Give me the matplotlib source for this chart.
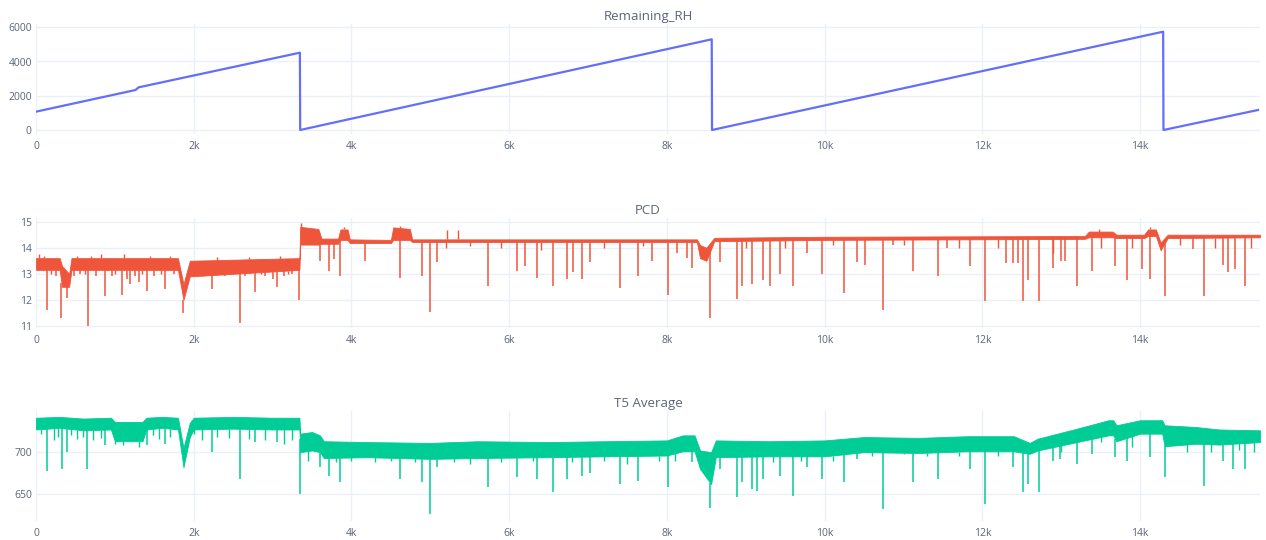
import numpy as np
import matplotlib
matplotlib.use("Agg")
import matplotlib.pyplot as plt

## data
# Remaining_RH (sawtooth)
rh_x = [0, 1262, 1300, 3346, 3350, 8568, 8572, 14292, 14296, 15495]
rh_y = [1070, 2336, 2490, 4514, 0, 5297, 0, 5741, 0, 1168]

# PCD: noise band (upper / lower edge), the long spikes and the short ones
pcd_band_x = [0, 300, 330, 420, 450, 1800, 1870, 1950, 3340, 3350, 3580, 3620, 3830, 3860, 3950,
              3980, 4500, 4530, 4740, 4770, 8380, 8420, 8500, 8600, 10000, 13300, 13350, 13650,
              13700, 14050, 14100, 14200, 14260, 14350, 15520]
pcd_hi = [13.6, 13.6, 13.3, 13.0, 13.6, 13.6, 12.6, 13.5, 13.6, 14.8, 14.72, 14.35, 14.35,
          14.7, 14.7, 14.32, 14.3, 14.78, 14.72, 14.32, 14.32, 14.1, 14.0, 14.38, 14.42, 14.45,
          14.62, 14.62, 14.5, 14.5, 14.7, 14.7, 14.2, 14.5, 14.5]
pcd_lo = [13.15, 13.15, 12.5, 12.5, 13.15, 13.15, 12.0, 12.9, 13.15, 14.12, 14.12, 14.15, 14.15,
          14.3, 14.3, 14.18, 14.18, 14.3, 14.3, 14.22, 14.22, 13.6, 13.5, 14.25, 14.3, 14.34,
          14.4, 14.4, 14.37, 14.37, 14.45, 14.45, 13.9, 14.37, 14.4]
pcd_dip_x = [140, 250, 323, 390, 480, 560, 665, 760, 870, 960, 1085, 1150, 1197, 1250, 1300, 1410,
             1500, 1640, 1750, 1870, 2050, 2150, 2233, 2400, 2500, 2582, 2650, 2782, 2900, 3000,
             3057, 3150, 3250, 3340,
             3595, 3710, 3775, 3860, 4175, 4610,
             4895, 5000, 5085, 5735, 6100, 6205, 6352, 6560, 6733, 6815, 6922, 7028, 7408, 7636,
             7810, 8017, 8127, 8253, 8317, 8549, 8675, 8887, 8950, 9080, 9220, 9310, 9436, 9600,
             9775, 9965, 10239,
             10407, 10513, 10745, 10868, 11122, 11438, 11548, 11844, 12034, 12300, 12389, 12450,
             12512, 12580, 12719, 12896, 13000, 13048, 13196, 13386, 13682, 13830, 14020, 14126,
             14316, 14671, 14810, 15050, 15115, 15200, 15330]
pcd_dip_y = [11.62, 12.9, 11.29, 12.07, 12.9, 13.0, 11.0, 12.9, 12.14, 12.9, 12.2, 12.8, 12.6, 12.9,
             12.7, 12.33, 12.9, 12.4, 13.0, 11.5, 12.9, 13.0, 12.4, 12.9, 13.0, 11.1, 12.9, 12.3,
             12.9, 12.8, 12.5, 12.9, 13.0, 12.0,
             13.5, 13.1, 13.58, 12.92, 13.5, 12.85,
             12.92, 11.55, 13.44, 12.53, 13.11, 13.3, 12.85, 12.53, 12.8, 13.05, 12.8, 13.44, 12.46,
             12.92, 13.5, 12.2, 13.8, 13.6, 13.24, 11.29, 13.44, 12.02, 12.53, 12.6, 12.75, 12.53,
             13.0, 12.53, 13.8, 13.0, 12.27,
             13.44, 13.35, 11.62, 14.09, 13.11, 12.92, 14.0, 13.3, 11.94, 13.4, 13.4, 13.4, 11.94,
             12.75, 11.94, 13.24, 13.5, 13.5, 12.53, 13.1, 13.3, 12.75, 13.2, 12.8, 12.14, 13.95,
             12.14, 13.35, 13.05, 13.2, 12.53]
pcd_short_x = [40, 100, 190, 520, 620, 700, 820, 1000, 1120, 1350, 1450, 1580, 1700, 2100, 2300,
               2450, 2700, 2850, 3100, 3200, 3365, 3900, 4620, 5210, 5345, 5200, 5500, 5900, 6400,
               7200, 7700, 9000, 9500, 10100, 11000, 11700, 12200, 12900, 13480, 13500, 13900,
               14130, 14500, 14950, 15400]
pcd_short_y = [13.75, 13.7, 13.0, 13.7, 13.0, 13.7, 13.75, 13.0, 13.75, 13.0, 13.7, 13.0, 13.7,
               13.0, 13.65, 13.0, 13.65, 13.0, 13.7, 13.0, 14.95, 14.78, 14.85, 14.67, 14.67,
               14.0, 14.05, 14.0, 13.9, 14.0, 14.05, 14.0, 14.0, 14.1, 14.1, 14.0, 14.0, 13.8,
               14.72, 14.0, 14.0, 14.78, 14.1, 14.0, 14.0]

# T5 Average: noise band plus spikes
t5_band_x = [0, 300, 600, 950, 1000, 1350, 1400, 1600, 1800, 1870, 1950, 2000, 2500, 3000, 3340,
             3350, 3500, 3600, 3650, 4200, 5000, 5600, 6500, 7200, 8000, 8200, 8350, 8420, 8560,
             8620, 9300, 10000, 10500, 11200, 11800, 12400, 12600, 12700, 13200, 13600, 13660,
             13700, 14000, 14280, 14310, 14700, 15000, 15520]
t5_hi = [741, 742, 740, 741, 736, 736, 741, 742, 741, 705, 735, 741, 742, 741, 741, 722, 724, 720,
         713, 712, 711, 713, 712, 713, 714, 720, 720, 702, 700, 714, 713, 714, 718, 717, 719, 719,
         711, 716, 728, 738, 738, 732, 738, 738, 732, 730, 727, 726]
t5_lo = [727, 729, 726, 727, 713, 713, 727, 729, 727, 682, 718, 727, 728, 727, 727, 700, 702, 700,
         693, 694, 692, 693, 694, 695, 696, 701, 701, 680, 662, 694, 695, 695, 700, 699, 701, 701,
         698, 702, 712, 720, 720, 713, 722, 722, 707, 710, 709, 712]
t5_dip_x = [140, 332, 395, 653, 880, 1200, 1410, 1640, 1870, 2233, 2582, 2782, 3057, 3344,
            3606, 3710, 3860, 4620,
            4895, 5000, 5085, 5735, 6100, 6352, 6560, 6733, 6922, 7028, 7408, 7636, 8017, 8317,
            8549, 8675, 8887, 8950, 9080, 9140, 9220, 9436, 9600, 9775, 9965, 10239,
            10407, 10745, 11122, 11438, 11844, 12034, 12389, 12512, 12580, 12719, 12896, 12980,
            13196, 13386, 13682, 13830, 14126, 14316, 14810, 15050, 15180, 15330]
t5_dip_y = [678, 680, 700, 680, 709, 712, 709, 710, 682, 700, 668, 712, 712, 650,
            682, 672, 664, 668,
            664, 626, 682, 658, 670, 668, 652, 668, 672, 675, 662, 666, 658, 688, 634, 680, 646,
            664, 656, 654, 668, 672, 648, 682, 668, 664,
            692, 632, 664, 668, 680, 638, 682, 652, 662, 652, 690, 692, 686, 698, 694, 690, 694,
            670, 660, 690, 680, 680]
t5_short_x = [60, 230, 280, 450, 520, 600, 720, 820, 1000, 1100, 1300, 1480, 1560, 1700, 2000,
              2100, 2300, 2450, 2700, 2900, 3150, 3250, 3450, 3800, 4000, 4300, 4500, 4800, 5300,
              5500, 5900, 6300, 6800, 7200, 7500, 7900, 8100, 9350, 9700, 10100, 10600, 11000,
              11300, 11700, 12200, 13000, 13500, 13900, 14600, 14900, 15250, 15450]
t5_short_y = [722, 715, 718, 720, 716, 718, 715, 717, 710, 708, 706, 720, 716, 718, 722, 715,
              718, 717, 716, 715, 710, 714, 690, 688, 690, 688, 690, 688, 688, 686, 688, 690,
              688, 690, 686, 690, 690, 688, 690, 690, 695, 698, 695, 696, 695, 700, 712, 706,
              700, 700, 702, 700]

titles = ["Remaining_RH", "PCD", "T5 Average"]
x_ticks = [0, 2000, 4000, 6000, 8000, 10000, 12000, 14000]
x_labels = ["0", "2k", "4k", "6k", "8k", "10k", "12k", "14k"]

plt.rcParams['font.family'] = ['Open Sans', 'DejaVu Sans']
txt = '#5b6577'
grid = '#ebf0f8'


def spikes(ax, bx, lo, hi, sx, sy, color, lw):
    # each spike starts on the band edge it leaves from
    lo_at = np.interp(sx, bx, lo)
    hi_at = np.interp(sx, bx, hi)
    start = np.where(np.array(sy) > hi_at, hi_at, lo_at)
    ax.vlines(sx, sy, start, color=color, lw=lw)


fig = plt.figure(figsize=(12.66, 5.40), dpi=100)
W, H = 1266, 540
left, right = 36, 1260
tops = [24, 218, 411]
h = 110
axes = []
for t in tops:
    ax = fig.add_axes([left / W, 1 - (t + h) / H, (right - left) / W, h / H])
    axes.append(ax)

# panel 1
ax = axes[0]
ax.plot(rh_x, rh_y, color='#636efa', lw=1.6)
ax.set_ylim(-234, 6190)
ax.set_yticks([0, 2000, 4000, 6000])

# panel 2
ax = axes[1]
red = '#ef553b'
ax.fill_between(pcd_band_x, pcd_lo, pcd_hi, color=red, lw=0.6, edgecolor=red)
spikes(ax, pcd_band_x, pcd_lo, pcd_hi, pcd_dip_x, pcd_dip_y, red, 1.1)
spikes(ax, pcd_band_x, pcd_lo, pcd_hi, pcd_short_x, pcd_short_y, red, 1.0)
ax.set_ylim(10.92, 15.14)
ax.set_yticks([11, 12, 13, 14, 15])

# panel 3
ax = axes[2]
green = '#00cc96'
ax.fill_between(t5_band_x, t5_lo, t5_hi, color=green, lw=0.6, edgecolor=green)
spikes(ax, t5_band_x, t5_lo, t5_hi, t5_dip_x, t5_dip_y, green, 1.1)
spikes(ax, t5_band_x, t5_lo, t5_hi, t5_short_x, t5_short_y, green, 1.0)
ax.set_ylim(618, 749)
ax.set_yticks([650, 700])

for ax, title in zip(axes, titles):
    ax.set_xlim(0, 15520)
    ax.set_xticks(x_ticks)
    ax.set_xticklabels(x_labels)
    for s in ax.spines.values():
        s.set_visible(False)
    ax.grid(True, color=grid, lw=1)
    ax.set_axisbelow(True)
    ax.tick_params(length=0, labelsize=7.5, colors=txt)
    ax.tick_params(axis='x', pad=5)
    ax.tick_params(axis='y', pad=3)
    ax.text(0.5, 1.065, title, transform=ax.transAxes, ha='center', va='center',
            fontsize=9.5, color=txt)

fig.savefig('out.png', dpi=100, facecolor='white')
